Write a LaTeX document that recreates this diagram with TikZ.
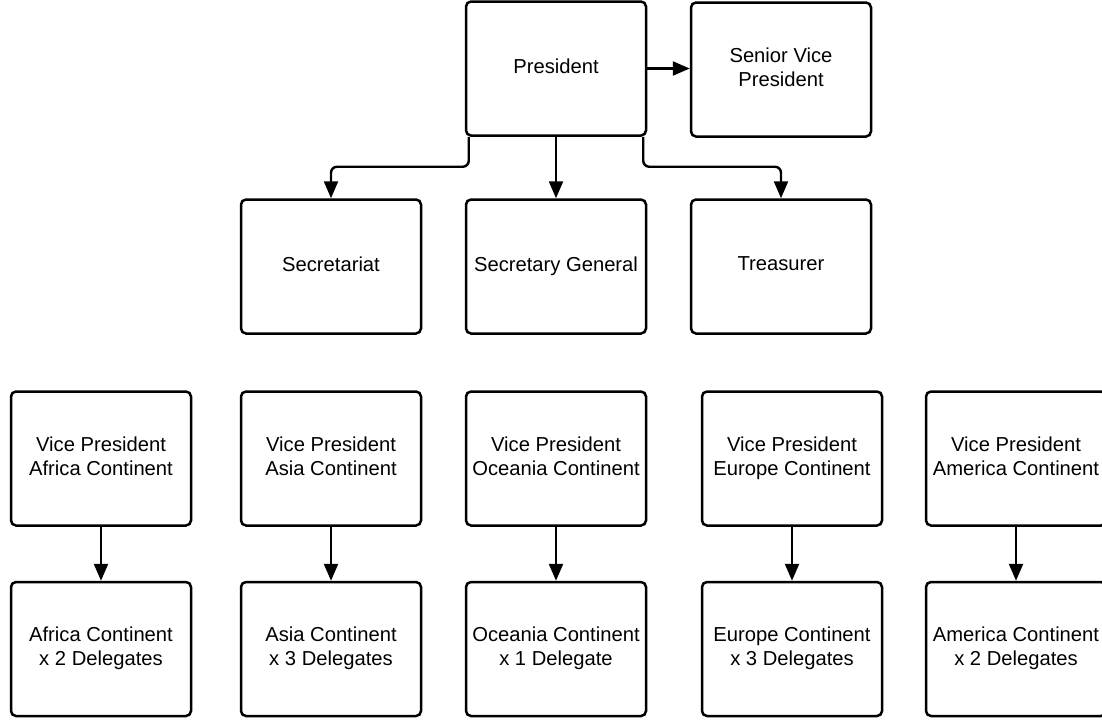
\documentclass[tikz,border=0pt]{standalone}
\usepackage{fontspec}
\setmainfont{Liberation Sans}
\usetikzlibrary{arrows.meta,calc}
\begin{document}
\begin{tikzpicture}[x=1pt,y=-1pt,
  box/.style={draw,line width=2.5pt,rounded corners=5pt,minimum width=180pt,minimum height=134pt,align=center,font=\fontsize{20.2}{24}\selectfont,inner sep=0pt,text depth=5pt},
  conn/.style={line width=2.4pt,-{Triangle[length=17pt,width=14pt]}}]
\useasboundingbox (0,0) rectangle (1102,721);
\fill[white] (0,0) rectangle (1102,721);
% row 1
\node[box] (pres) at (556,68.5) {President};
\node[box] (svp) at (781,69.5) {Senior Vice\\President};
% row 2
\node[box] (secr) at (331,266.5) {Secretariat};
\node[box] (sg) at (556,266.5) {Secretary General};
\node[box] (tre) at (781,266.5) {Treasurer};
% row 3
\node[box] (vpaf) at (101,458.5) {Vice President\\Africa Continent};
\node[box] (vpas) at (331,458.5) {Vice President\\Asia Continent};
\node[box] (vpoc) at (556,458.5) {Vice President\\Oceania Continent};
\node[box] (vpeu) at (792,458.5) {Vice President\\Europe Continent};
\node[box] (vpam) at (1016,458.5) {Vice President\\America Continent};
% row 4
\node[box] (daf) at (101,649) {Africa Continent\\x 2 Delegates};
\node[box] (das) at (331,649) {Asia Continent\\x 3 Delegates};
\node[box] (doc) at (556,649) {Oceania Continent\\x 1 Delegate};
\node[box] (deu) at (792,649) {Europe Continent\\x 3 Delegates};
\node[box] (dam) at (1016,649) {America Continent\\x 2 Delegates};
% connectors
\draw[conn] (pres.east) -- (pres.east -| svp.west);
\draw[conn] (pres.south) -- (sg.north);
\draw[conn,rounded corners=6pt] ([xshift=4pt]pres.south west) -- ++(0,30) -| (secr.north);
\draw[conn,rounded corners=6pt] ([xshift=-4pt]pres.south east) -- ++(0,30) -| (tre.north);
\draw[conn] (vpaf) -- (daf);
\draw[conn] (vpas) -- (das);
\draw[conn] (vpoc) -- (doc);
\draw[conn] (vpeu) -- (deu);
\draw[conn] (vpam) -- (dam);
\end{tikzpicture}
\end{document}
